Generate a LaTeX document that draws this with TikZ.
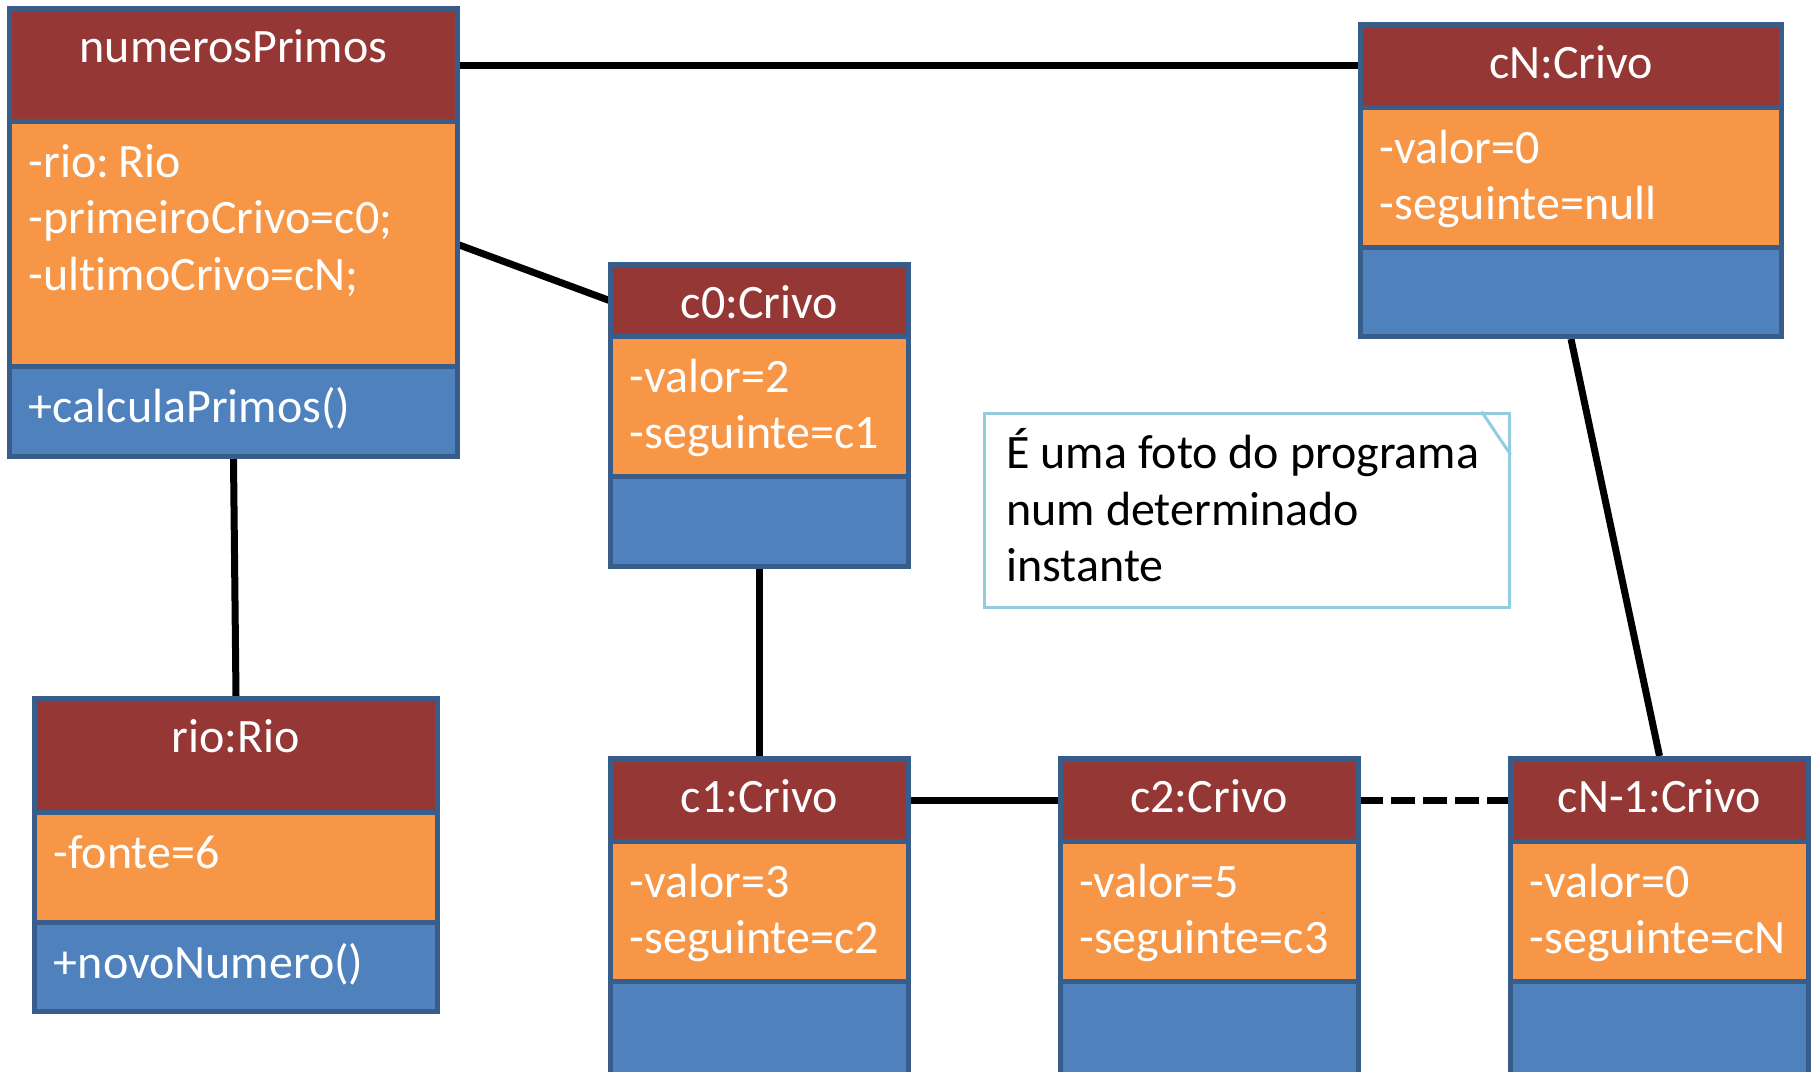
\documentclass[tikz,border=0pt]{standalone}
\usepackage{fontspec}
\setmainfont{Carlito}[Ligatures=NoCommon]
\usetikzlibrary{fit}

\definecolor{hdrfill}{HTML}{953735}
\definecolor{attrfill}{HTML}{F79646}
\definecolor{methfill}{HTML}{4F81BD}
\definecolor{framecol}{HTML}{385D8A}
\definecolor{notecol}{HTML}{93CDDD}

\pgfdeclarelayer{bg}
\pgfsetlayers{bg,main}

% UML object box: name, left, right, top, first divider, second divider, bottom
\newcommand\umlobj[7]{%
  \fill[hdrfill]  (#2,#4) rectangle (#3,#5);
  \fill[attrfill] (#2,#5) rectangle (#3,#6);
  \fill[methfill] (#2,#6) rectangle (#3,#7);
  \node[fit={(#2,#4)(#3,#5)}, inner sep=0pt] (#1-h) {};
  \node[fit={(#2,#5)(#3,#6)}, inner sep=0pt] (#1-a) {};
  \node[fit={(#2,#6)(#3,#7)}, inner sep=0pt] (#1-m) {};
  \draw[frame] (#1-a.north west) -- (#1-a.north east)
               (#1-m.north west) -- (#1-m.north east);
  \node[fit={(#2,#4)(#3,#7)}, inner sep=0pt, frame] (#1) {};
}

\begin{document}
\begin{tikzpicture}[x=0.5pt, y=-0.5pt,
  frame/.style={draw=framecol, line width=2.5pt},
  txt/.style={inner sep=0pt, font=\fontsize{24}{29}\selectfont},
  title/.style={txt, text=white, anchor=base},
  field/.style={txt, text=white, anchor=base west},
  notetxt/.style={txt, text=black, anchor=base west},
  link/.style={line width=3.5pt, black},
  dashedlink/.style={link, dash pattern=on 12pt off 4pt}]

\useasboundingbox (0,0) rectangle (1815,1071);
\clip (0,0) rectangle (1815,1071);

% numerosPrimos
\umlobj{np}{9.5}{457.5}{8.5}{122}{367}{456.5}
\node[title] (np-t) at (233.5,62) {numerosPrimos};
\node[field] (np-f1) at (28.5,177) {-rio:\kern-1pt\ Rio};
\node[field] (np-f2) at (28.5,233.5) {-primeiroCrivo=c0;};
\node[field] (np-f3) at (28.5,290) {-ultimoCrivo=cN;};
\node[field] (np-m1) at (28.5,422) {+calculaPrimos()};

% rio
\umlobj{rio}{34.5}{437.5}{698.5}{813}{923}{1011.5}
\node[title] (rio-t) at (236,752) {rio:Rio};
\node[field] (rio-f1) at (53.5,868) {-fonte=6};
\node[field] (rio-m1) at (53.5,978) {+novoNumero()};

% c0
\umlobj{c0}{610.5}{908.5}{264.5}{337}{477}{566.5}
\node[title] (c0-t) at (759.5,318) {c0:Crivo};
\node[field] (c0-f1) at (629.5,392) {-valor=2};
\node[field] (c0-f2) at (629.5,448.5) {-seguinte=c1};

% cN
\umlobj{cN}{1360.5}{1781.5}{24.5}{108}{248}{336.5}
\node[title] (cN-t) at (1571,78) {cN:Crivo};
\node[field] (cN-f1) at (1379.5,163) {-valor=0};
\node[field] (cN-f2) at (1379.5,219.5) {-seguinte=null};

% c1
\umlobj{c1}{610.5}{908.5}{758.5}{842}{982}{1100}
\node[title] (c1-t) at (759.5,812) {c1:Crivo};
\node[field] (c1-f1) at (629.5,897) {-valor=3};
\node[field] (c1-f2) at (629.5,953.5) {-seguinte=c2};

% c2
\umlobj{c2}{1060}{1358.5}{758.5}{842}{982}{1100}
\node[title] (c2-t) at (1209,812) {c2:Crivo};
\node[field] (c2-f1) at (1079,897) {-valor=5};
\node[field] (c2-f2) at (1079,953.5) {-seguinte=c3};

% cN-1
\umlobj{cN1}{1510.5}{1808.5}{758.5}{842}{982}{1100}
\node[title] (cN1-t) at (1659.5,812) {cN-1:Crivo};
\node[field] (cN1-f1) at (1529.5,897) {-valor=0};
\node[field] (cN1-f2) at (1529.5,953.5) {-seguinte=cN};

% note
\node[fit={(984,413)(1509,607)}, inner sep=0pt, draw=notecol, line width=1.5pt] (note) {};
\draw[notecol, line width=1.5pt] ([xshift=-14.5pt]note.north east) -- ([yshift=-21.5pt]note.north east);
\node[notetxt] (note-l1) at (1006,468) {É uma foto do programa};
\node[notetxt] (note-l2) at (1006,525) {num determinado};
\node[notetxt] (note-l3) at (1006,581) {instante};

% links
\begin{pgfonlayer}{bg}
  \draw[link] (np-h.east) -- (np-h.east -| cN-h.west);
  \draw[link] (np-a.east) -- (c0-h.west);
  \draw[link] (np.south) -- (rio.north);
  \draw[link] (c0.south) -- (c1.north);
  \draw[link] (c1-h.east) -- (c2-h.west);
  \draw[dashedlink] (c2-h.east) -- (cN1-h.west);
  \draw[link] (cN.south) -- (cN1.north);
\end{pgfonlayer}
\end{tikzpicture}
\end{document}
